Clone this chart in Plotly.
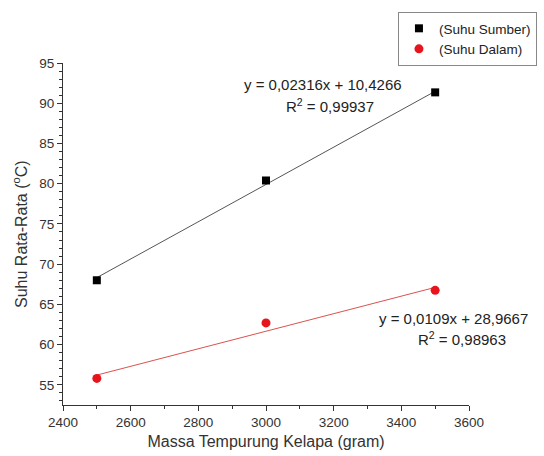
import numpy as np
import plotly.graph_objects as go

massa = [2500, 3000, 3500]
suhu_sumber = [68.0, 80.4, 91.35]
suhu_dalam = [55.8, 62.7, 66.75]

fit_sumber = (0.02316, 10.4266)
fit_dalam = (0.0109, 28.9667)

eq_sumber = ["y = 0,02316x + 10,4266", "R<sup>2</sup> = 0,99937"]
eq_dalam = ["y = 0,0109x + 28,9667", "R<sup>2</sup> = 0,98963"]
y_title = "Suhu Rata-Rata (<sup>o</sup>C)"

FONT = "Liberation Sans, Arial, sans-serif"
xs = np.array([min(massa), max(massa)])

fig = go.Figure()
fig.add_trace(go.Scatter(x=xs, y=fit_sumber[0] * xs + fit_sumber[1], mode="lines",
                         line=dict(color="#555555", width=1), showlegend=False, hoverinfo="skip"))
fig.add_trace(go.Scatter(x=xs, y=fit_dalam[0] * xs + fit_dalam[1], mode="lines",
                         line=dict(color="#d9534f", width=1), showlegend=False, hoverinfo="skip"))
fig.add_trace(go.Scatter(x=massa, y=suhu_sumber, mode="markers", name="(Suhu Sumber)",
                         marker=dict(symbol="square", color="black", size=8)))
fig.add_trace(go.Scatter(x=massa, y=suhu_dalam, mode="markers", name="(Suhu Dalam)",
                         marker=dict(symbol="circle", color="#e8141c", size=9)))

annots = [
    dict(x=0.640, y=0.937, text=eq_sumber[0]),
    dict(x=0.657, y=0.876, text=eq_sumber[1]),
    dict(x=0.963, y=0.254, text=eq_dalam[0]),
    dict(x=0.983, y=0.193, text=eq_dalam[1]),
]
for a in annots:
    fig.add_annotation(xref="paper", yref="paper", x=a["x"], y=a["y"], text=a["text"],
                       showarrow=False, xanchor="center", yanchor="middle",
                       font=dict(family=FONT, size=15, color="#222222"))

fig.add_annotation(xref="paper", yref="paper", x=-0.106, y=0.5, text=y_title,
                   textangle=-90, showarrow=False, xanchor="center", yanchor="middle",
                   font=dict(family=FONT, size=16, color="#333333"))

fig.update_layout(
    width=544, height=456,
    margin=dict(l=63, r=75, t=63, b=51, autoexpand=False),
    paper_bgcolor="white", plot_bgcolor="white",
    font=dict(family=FONT, size=13, color="#333333"),
    legend=dict(x=0.825, y=1.149, xanchor="left", yanchor="top",
                bordercolor="#888888", borderwidth=1, bgcolor="white",
                font=dict(family=FONT, size=13.5, color="#222222"),
                tracegroupgap=0, itemwidth=30),
    xaxis=dict(range=[2400, 3600], tickmode="linear", tick0=2400, dtick=200,
               showgrid=False, zeroline=False, showline=True, linecolor="#333333", linewidth=1,
               ticks="outside", ticklen=5, tickcolor="#333333",
               minor=dict(ticks="outside", ticklen=3, dtick=100, tick0=2400, tickcolor="#333333"),
               title=dict(text="Massa Tempurung Kelapa (gram)", font=dict(size=16, color="#333333"),
                          standoff=6),
               tickfont=dict(size=13.5, color="#333333")),
    yaxis=dict(range=[52.5, 95], tickmode="linear", tick0=55, dtick=5,
               showgrid=False, zeroline=False, showline=True, linecolor="#333333", linewidth=1,
               ticks="outside", ticklen=5, tickcolor="#333333",
               minor=dict(ticks="outside", ticklen=3, dtick=1, tick0=55, tickcolor="#333333"),
               tickfont=dict(size=13.5, color="#333333")),
)

fig.write_html("out.html")
